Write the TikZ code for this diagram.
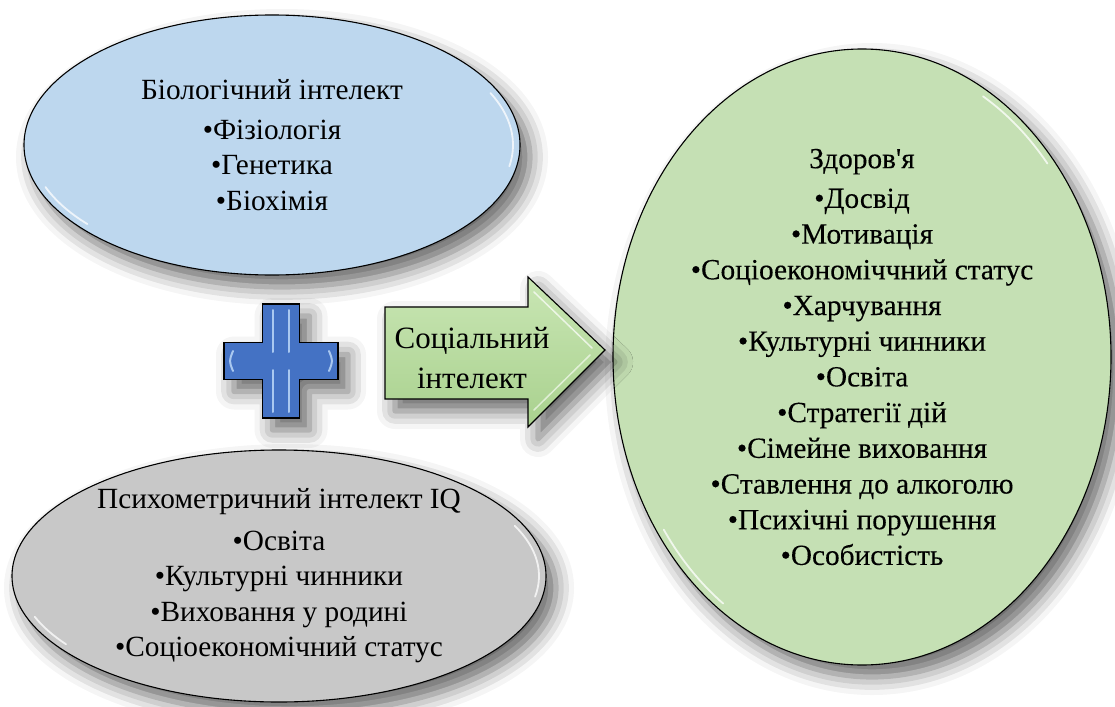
\documentclass[tikz,border=0pt]{standalone}
\usepackage{fontspec}
\newfontfamily\tnr{Liberation Serif}
\usetikzlibrary{shapes.geometric,shadows.blur}
\definecolor{bluefill}{HTML}{BDD7EE}
\definecolor{grayfill}{HTML}{C8C8C8}
\definecolor{greenfill}{HTML}{C5E0B4}
\definecolor{plusblue}{HTML}{4472C4}
\definecolor{pluslight}{HTML}{A9C8F0}
\definecolor{arrowgreen}{HTML}{A9D18E}
\definecolor{arrowlight}{HTML}{C9E6B4}
\begin{document}
\begin{tikzpicture}[x=1pt,y=-1pt,
  softshadow/.style={blur shadow={shadow xshift=10pt, shadow yshift=-12pt, shadow blur radius=18pt, shadow opacity=60}},
  oval/.style={ellipse, draw=black, line width=1.1pt, inner sep=0pt, align=center, softshadow},
  ovaltext/.style={font=\tnr\fontsize{29.3}{35.5}\selectfont},
  bigtext/.style={font=\tnr\fontsize{29.3}{35.7}\selectfont\addfontfeature{FakeBold=0.2}},
  gloss/.style={white, line width=1.8pt, opacity=0.75, line cap=round},
]
\useasboundingbox (0,0) rectangle (1115,706);

% ellipses
\node[oval, ovaltext, fill=bluefill, minimum width=496pt, minimum height=260pt] (bio) at (272,145)
  {Біологічний інтелект\\[4pt]•Фізіологія\\•Генетика\\•Біохімія};
\node[oval, ovaltext, fill=grayfill, minimum width=534pt, minimum height=252pt] (psy) at (279,576)
  {Психометричний інтелект IQ\\[6pt]•Освіта\\•Культурні чинники\\•Виховання у родині\\•Соціоекономічний статус};
\node[oval, bigtext, fill=greenfill, minimum width=498pt, minimum height=616pt] (hlt) at (862,357)
  {Здоров'я\\[4pt]•Досвід\\•Мотивація\\•Соціоекономіччний статус\\•Харчування\\•Культурні чинники\\•Освіта\\•Стратегії дій\\•Сімейне виховання\\•Ставлення до алкоголю\\•Психічні порушення\\•Особистість};

% gloss highlights
\draw[gloss, shift={(bio.center)}] (160:241 and 123) arc[start angle=160, end angle=140, x radius=241, y radius=123];
\draw[gloss, shift={(bio.center)}] (-25:241 and 123) arc[start angle=-25, end angle=10, x radius=241, y radius=123];
\draw[gloss, shift={(psy.center)}] (-25:260 and 119) arc[start angle=-25, end angle=10, x radius=260, y radius=119];
\draw[gloss, shift={(psy.center)}] (160:260 and 119) arc[start angle=160, end angle=145, x radius=260, y radius=119];
\draw[gloss, shift={(hlt.center)}] (145:242 and 301) arc[start angle=145, end angle=125, x radius=242, y radius=301];
\draw[gloss, shift={(hlt.center)}] (-40:242 and 301) arc[start angle=-40, end angle=-60, x radius=242, y radius=301];

% plus sign
\fill[plusblue, draw=black, line width=1.1pt, softshadow]
  (262.5,304) -- (299.5,304) -- (299.5,342.5) -- (338,342.5) -- (338,379.5) -- (299.5,379.5)
  -- (299.5,418) -- (262.5,418) -- (262.5,379.5) -- (224,379.5) -- (224,342.5) -- (262.5,342.5) -- cycle;
\draw[pluslight, line width=2pt, line cap=round] (273,310) -- (273,352) (289,310) -- (289,352)
  (273,370) -- (273,412) (289,370) -- (289,412);
\draw[pluslight, line width=2pt, line cap=round] (233,351) .. controls (229,361) .. (233,371)
  (329,351) .. controls (333,361) .. (329,371);

% arrow
\shade[top color=arrowlight, bottom color=arrowgreen, draw=black, line width=1.1pt, softshadow]
  (385,307) -- (528,307) -- (528,277) -- (605,350) -- (528,427) -- (528,399) -- (385,399) -- cycle;
\draw[white, opacity=0.7, line width=1.5pt, line cap=round] (534,292) -- (592,348);
\draw[white, opacity=0.6, line width=1.5pt, line cap=round] (534,410) -- (590,355);
\node[align=center, font=\tnr\fontsize{31}{40}\selectfont, inner sep=0pt] (soc) at (472,358) {Соціальний\\інтелект};
\end{tikzpicture}
\end{document}
